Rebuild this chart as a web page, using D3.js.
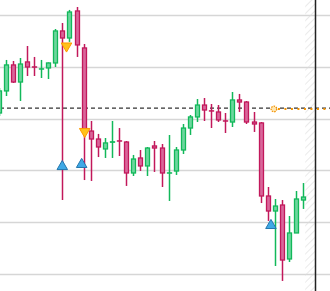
<!DOCTYPE html>
<html><head><meta charset="utf-8">
<script src="https://cdn.jsdelivr.net/npm/d3@7"></script>
<style>html,body{margin:0;padding:0;background:#fff;overflow:hidden}</style>
</head><body>
<script>
// OHLC data (arbitrary price units)
const opens  = [205.4,226.7,251.8,235.3,254.7,249.9,247.8,248.9,253.7,284.6,277.8,303.9,268.2,188.0,180.3,170.7,177.2,178.5,177.4,147.5,162.0,154.3,173.6,171.6,147.4,149.4,169.7,190.9,201.6,213.1,207.5,206.4,197.8,196.7,218.0,216.0,196.7,195.8,125.3,110.8,116.6,64.5,89.6,121.4];
const highs  = [229.6,256.6,255.6,258.5,270.1,259.5,256.6,254.2,286.5,292.3,304.9,307.7,272.0,197.7,185.2,181.3,197.7,190.9,178.4,164.9,169.7,172.6,178.4,175.5,184.2,172.6,194.8,203.5,218.9,219.9,214.1,213.1,205.4,225.7,223.8,217.0,206.4,196.7,134.0,122.4,121.4,106.0,130.1,137.8];
const lows   = [202.5,221.8,234.4,217.0,241.1,241.1,239.2,238.2,249.8,121.4,274.0,259.5,140.7,139.8,162.9,162.0,162.0,163.9,135.0,144.6,149.4,144.6,148.5,134.0,120.5,145.6,165.8,184.2,196.7,197.7,190.9,196.7,186.1,191.9,206.4,194.8,187.1,118.5,101.2,57.7,43.3,61.6,89.6,112.8];
const closes = [226.7,251.8,235.3,252.7,249.8,249.7,248.0,253.7,284.6,277.8,302.9,271.1,189.0,180.3,172.6,176.5,177.6,178.3,147.5,161.0,154.3,171.6,171.6,147.5,147.6,169.7,190.9,201.6,213.1,208.3,207.3,198.7,197.6,218.0,216.0,196.7,194.8,125.3,110.8,115.6,63.5,89.6,122.4,124.3];
const gridValues = [300,250,200,150,100,50];
const refLevel = 210.2;
const buyIdx = [8.98,11.72,38.46];
const buyVal = [154.7,156.7,97.8];
const sellIdx = [9.58,12.15];
const sellVal = [269.1,186.6];
const orderIdx = 38.88;
const orderVal = 209.3;
const futureStartIdx = 43.3;
const futureEndIdx = 44.7;

const W = 330, H = 291;
const x = d3.scaleLinear().domain([0, 43]).range([-1.3, 303.1]);
const y = d3.scaleLinear().domain([50, 300]).range([274, 15]);

const svg = d3.select("body").append("svg").attr("width", W).attr("height", H);

const defs = svg.append("defs");
const pat = defs.append("pattern").attr("id","hatch").attr("patternUnits","userSpaceOnUse")
  .attr("width",5).attr("height",5).attr("patternTransform","rotate(45)");
pat.append("line").attr("x1",0).attr("y1",-1).attr("x2",0).attr("y2",6)
  .attr("stroke","#dcdcdc").attr("stroke-width",1.2);

// grid
svg.append("g").selectAll("line").data(gridValues).join("line")
  .attr("x1",0).attr("x2",W).attr("y1",d=>Math.round(y(d))+0.5).attr("y2",d=>Math.round(y(d))+0.5)
  .attr("stroke","#d6d6d6").attr("stroke-width",1.5);

// hatched future area
svg.append("rect").attr("x",x(futureStartIdx)).attr("y",0)
  .attr("width",x(futureEndIdx)-x(futureStartIdx)).attr("height",H).attr("fill","url(#hatch)");

// reference dashed line
svg.append("line").attr("x1",0).attr("x2",W).attr("y1",y(refLevel)).attr("y2",y(refLevel))
  .attr("stroke","#333").attr("stroke-width",1.2).attr("stroke-dasharray","4,3");

// orange order line
svg.append("line").attr("x1",x(orderIdx)+4).attr("x2",W).attr("y1",y(orderVal)).attr("y2",y(orderVal))
  .attr("stroke","#f39200").attr("stroke-width",2).attr("stroke-dasharray","2,4.5");
svg.append("circle").attr("cx",x(orderIdx)).attr("cy",y(orderVal)).attr("r",2.8)
  .attr("fill","#ffe6b0").attr("stroke","#f39200").attr("stroke-width",1.3).attr("stroke-dasharray","1.5,1");

const idx = d3.range(opens.length);
const up = i => closes[i] >= opens[i];
const strokeC = i => up(i) ? "#12b85a" : "#c2185b";
const fillC = i => up(i) ? "#6dd69e" : "#d9669a";

const cg = svg.append("g");
cg.selectAll("line.wick").data(idx).join("line").attr("class","wick")
  .attr("x1",i=>Math.round(x(i))+0.5).attr("x2",i=>Math.round(x(i))+0.5)
  .attr("y1",i=>y(highs[i])).attr("y2",i=>y(lows[i]))
  .attr("stroke",strokeC).attr("stroke-width",1.5);
cg.selectAll("rect.body").data(idx).join("rect").attr("class","body")
  .attr("x",i=>Math.round(x(i))+0.5-2).attr("width",4)
  .attr("y",i=>y(Math.max(opens[i],closes[i])))
  .attr("height",i=>Math.max(0.01, Math.abs(y(opens[i])-y(closes[i]))))
  .attr("fill",fillC).attr("stroke",strokeC).attr("stroke-width",1.3);

// vertical now line
svg.append("line").attr("x1",Math.round(x(futureEndIdx))+0.5).attr("x2",Math.round(x(futureEndIdx))+0.5).attr("y1",0).attr("y2",H)
  .attr("stroke","#222").attr("stroke-width",1.5);

// markers
const tri = d3.symbol().type(d3.symbolTriangle).size(48);
svg.append("g").selectAll("path").data(d3.range(buyIdx.length)).join("path")
  .attr("d",tri).attr("transform",i=>`translate(${x(buyIdx[i])},${y(buyVal[i])+1})`)
  .attr("fill","#3fa9e6").attr("stroke","#2376ad").attr("stroke-width",1);
svg.append("g").selectAll("path").data(d3.range(sellIdx.length)).join("path")
  .attr("d",tri).attr("transform",i=>`translate(${x(sellIdx[i])},${y(sellVal[i])-1}) rotate(180)`)
  .attr("fill","#ffc21a").attr("stroke","#ff9a00").attr("stroke-width",1);
</script>
</body></html>
